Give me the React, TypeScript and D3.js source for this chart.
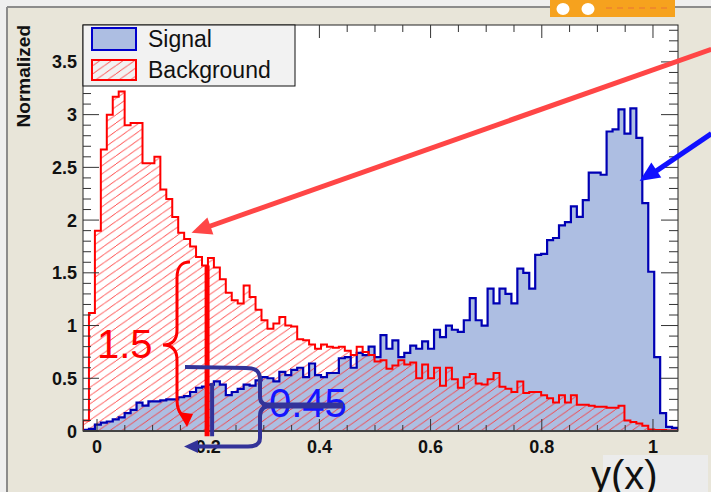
import React from 'react';
import * as d3 from 'd3';

// histogram range (x) and y range of the frame
const xMin = -0.0252;
const xMax = 1.045;
const yMax = 3.85;

// normalized bin contents, 100 bins
const signal = [
  0.01, 0.02, 0.06, 0.08, 0.09, 0.11, 0.13, 0.17, 0.2, 0.27,
  0.24, 0.28, 0.28, 0.29, 0.3, 0.3, 0.32, 0.33, 0.37, 0.41,
  0.42, 0.44, 0.47, 0.44, 0.34, 0.37, 0.4, 0.44, 0.43, 0.48,
  0.51, 0.5, 0.47, 0.56, 0.53, 0.58, 0.6, 0.51, 0.64, 0.53,
  0.51, 0.55, 0.55, 0.69, 0.7, 0.6, 0.74, 0.72, 0.8, 0.7,
  0.91, 0.78, 0.86, 0.7, 0.74, 0.81, 0.78, 0.85, 0.78, 0.96,
  0.89, 1.0, 0.96, 0.94, 1.05, 1.26, 1.05, 1.0, 1.35, 1.21,
  1.35, 1.3, 1.21, 1.54, 1.5, 1.35, 1.67, 1.68, 1.81, 1.83,
  1.95, 1.98, 2.13, 2.03, 2.19, 2.45, 2.45, 2.43, 2.84, 2.86,
  3.05, 2.82, 3.06, 2.78, 2.16, 1.51, 0.7, 0.17, 0.04, 0.03,
];

const background = [
  0.1, 1.12, 1.9, 2.67, 3.0, 3.17, 3.22, 2.9, 2.92, 2.92,
  2.54, 2.54, 2.6, 2.29, 2.2, 2.03, 1.88, 1.82, 1.75, 1.65,
  1.57, 1.64, 1.55, 1.44, 1.31, 1.24, 1.21, 1.38, 1.27, 1.15,
  1.05, 0.97, 1.02, 1.08, 1.0, 0.99, 0.87, 0.86, 0.82, 0.78,
  0.82, 0.8, 0.79, 0.8, 0.76, 0.72, 0.8, 0.75, 0.72, 0.66,
  0.67, 0.59, 0.62, 0.67, 0.63, 0.65, 0.5, 0.63, 0.5, 0.6,
  0.43, 0.6, 0.49, 0.41, 0.51, 0.54, 0.45, 0.44, 0.49, 0.55,
  0.42, 0.4, 0.37, 0.47, 0.36, 0.37, 0.37, 0.34, 0.31, 0.27,
  0.34, 0.27, 0.34, 0.25, 0.25, 0.24, 0.23, 0.23, 0.22, 0.22,
  0.24, 0.1, 0.085, 0.07, 0.05, 0.015, 0.01, 0.01, 0.005, 0.005,
];

const xTickValues = [0, 0.2, 0.4, 0.6, 0.8, 1];
const xTickLabels = ['0', '0.2', '0.4', '0.6', '0.8', '1'];
const yTickValues = [0, 0.5, 1, 1.5, 2, 2.5, 3, 3.5];
const yTickLabels = ['0', '0.5', '1', '1.5', '2', '2.5', '3', '3.5'];
const legendLabels = ['Signal', 'Background'];
const yTitle = 'Normalized';
const xTitle = 'y(x)';
const sigNote = '1.5';
const bkgNote = '0.45';

const FONT = '"Liberation Sans", Arial, Helvetica, sans-serif';
const SIG_FILL = '#adbee2';
const SIG_LINE = '#0000b4';
const BKG_LINE = '#ff0000';

export default function App() {
  const W = 711;
  const H = 492;
  const frame = { left: 83, right: 678, top: 25, bottom: 431 };

  const x = d3.scaleLinear().domain([xMin, xMax]).range([frame.left, frame.right]);
  const y = d3.scaleLinear().domain([0, yMax]).range([frame.bottom, frame.top]);

  const n = signal.length;
  const edges = d3.range(n + 1).map(i => xMin + ((xMax - xMin) * i) / n);

  const stepPoints = (vals: number[]) =>
    [[edges[0], 0] as [number, number]]
      .concat(vals.map((v, i) => [edges[i], v] as [number, number]))
      .concat([[edges[n], vals[n - 1]], [edges[n], 0]]);

  const area = d3.area<[number, number]>()
    .x(d => x(d[0]))
    .y0(y(0))
    .y1(d => y(d[1]))
    .curve(d3.curveStepAfter);

  const line = d3.line<[number, number]>()
    .x(d => x(d[0]))
    .y(d => y(d[1]))
    .curve(d3.curveStepAfter);

  const sigPts = stepPoints(signal);
  const bkgPts = stepPoints(background);

  const xMinor = d3.range(0, 1.0001, 0.05).filter(v => x(v) >= frame.left && x(v) <= frame.right);
  const yMinor = d3.range(0, yMax, 0.1);

  // annotation anchor points, in data coordinates
  const redArrowTip: [number, number] = [0.17, 1.88];
  const redArrowTail: [number, number] = [1.105, 3.62];
  const blueArrowTip: [number, number] = [0.976, 2.37];
  const blueArrowTail: [number, number] = [1.105, 2.82];

  const arrowHead = (tip: [number, number], tail: [number, number], len: number, half: number) => {
    const dx = tip[0] - tail[0];
    const dy = tip[1] - tail[1];
    const L = Math.hypot(dx, dy);
    const ux = dx / L, uy = dy / L;
    const bx = tip[0] - ux * len, by = tip[1] - uy * len;
    return `M${tip[0]},${tip[1]} L${bx - uy * half},${by + ux * half} L${bx + uy * half},${by - ux * half} Z`;
  };

  const rTip: [number, number] = [x(redArrowTip[0]), y(redArrowTip[1])];
  const rTail: [number, number] = [x(redArrowTail[0]), y(redArrowTail[1])];
  const bTip: [number, number] = [x(blueArrowTip[0]), y(blueArrowTip[1])];
  const bTail: [number, number] = [x(blueArrowTail[0]), y(blueArrowTail[1])];

  const redBarX = x(0.198);
  const blueBarX = x(0.207);

  return (
    <svg width={W} height={H} style={{ position: 'absolute', left: 0, top: 0 }} fontFamily={FONT}>
      <defs>
        <pattern id="hatch" patternUnits="userSpaceOnUse" width="11.6" height="8.2">
          <path d="M-1.16,9.02 L12.76,-0.82" stroke="#ff3030" strokeWidth="0.9" />
        </pattern>
        <clipPath id="plotClip">
          <rect x={frame.left} y={frame.top} width={frame.right - frame.left} height={frame.bottom - frame.top} />
        </clipPath>
      </defs>

      {/* canvas */}
      <rect x={0} y={0} width={W} height={H} fill="#e8e5d9" />
      <rect x={0} y={0} width={W} height={7} fill="#efefef" />
      <rect x={0} y={0} width={7} height={H} fill="#efefef" />
      <line x1={7} y1={7} x2={W} y2={7} stroke="#8c8c8c" strokeWidth={2} />
      <line x1={7} y1={7} x2={7} y2={H} stroke="#8c8c8c" strokeWidth={2} />
      <rect x={550} y={0} width={125} height={17} fill="#f6a21e" />
      <ellipse cx={563} cy={9} rx={6.5} ry={6} fill="#ffffff" />
      <ellipse cx={588} cy={9} rx={6.5} ry={6} fill="#ffffff" />
      {d3.range(6).map(i => (
        <rect key={i} x={606 + i * 11} y={7} width={6} height={2} fill="#f08a2a" />
      ))}

      {/* plot frame */}
      <rect x={frame.left} y={frame.top} width={frame.right - frame.left} height={frame.bottom - frame.top} fill="#ffffff" />

      <g clipPath="url(#plotClip)">
        <path d={area(sigPts) || ''} fill={SIG_FILL} />
        <path d={area(bkgPts) || ''} fill="url(#hatch)" />
        <path d={line(sigPts) || ''} fill="none" stroke={SIG_LINE} strokeWidth={2.2} />
        <path d={line(bkgPts) || ''} fill="none" stroke={BKG_LINE} strokeWidth={2} />
      </g>

      {/* axes */}
      <rect x={frame.left} y={frame.top} width={frame.right - frame.left} height={frame.bottom - frame.top} fill="none" stroke="#222" strokeWidth={1} />
      <line x1={frame.left} y1={frame.bottom} x2={frame.right} y2={frame.bottom} stroke="#444" strokeWidth={2} />
      {xMinor.map((v, i) => {
        const major = xTickValues.some(t => Math.abs(t - v) < 1e-6);
        return (
          <g key={'xt' + i} stroke="#333" strokeWidth={1}>
            <line x1={x(v)} x2={x(v)} y1={frame.bottom} y2={frame.bottom - (major ? 12 : 6)} />
            <line x1={x(v)} x2={x(v)} y1={frame.top} y2={frame.top + (major ? 13 : 7)} />
          </g>
        );
      })}
      {yMinor.map((v, i) => {
        const major = yTickValues.some(t => Math.abs(t - v) < 1e-6);
        return (
          <g key={'yt' + i} stroke="#333" strokeWidth={1}>
            <line x1={frame.left} x2={frame.left + (major ? 16 : 8)} y1={y(v)} y2={y(v)} />
            <line x1={frame.right} x2={frame.right - (major ? 17 : 9)} y1={y(v)} y2={y(v)} />
          </g>
        );
      })}
      {xTickValues.map((v, i) => (
        <text key={'xl' + i} x={x(v)} y={453} textAnchor="middle" fontSize={18} fontWeight="bold" fill="#111">
          {xTickLabels[i]}
        </text>
      ))}
      {yTickValues.map((v, i) => (
        <text key={'yl' + i} x={77} y={y(v) + 6.5} textAnchor="end" fontSize={18} fontWeight="bold" fill="#111">
          {yTickLabels[i]}
        </text>
      ))}
      <text transform={`translate(30,${frame.top}) rotate(-90)`} textAnchor="end" fontSize={19} fontWeight="bold" fill="#111">
        {yTitle}
      </text>

      {/* legend */}
      <rect x={83} y={25} width={212} height={61} fill="#f2f2f2" stroke="#111" strokeWidth={1} />
      <rect x={92} y={28} width={44} height={22} fill={SIG_FILL} stroke="#0000cc" strokeWidth={2} />
      <rect x={92} y={60} width={44} height={20} fill="url(#hatch)" stroke={BKG_LINE} strokeWidth={2} />
      <text x={148} y={47} fontSize={23} fill="#111">{legendLabels[0]}</text>
      <text x={148} y={78} fontSize={23} fill="#111">{legendLabels[1]}</text>

      {/* annotations */}
      <line x1={rTail[0]} y1={rTail[1]} x2={rTip[0] + 14} y2={rTip[1] - 5} stroke="#ff4646" strokeWidth={5} />
      <path d={arrowHead(rTip, rTail, 20, 9)} fill="#ff4646" />
      <line x1={bTail[0]} y1={bTail[1]} x2={bTip[0] + 12} y2={bTip[1] - 7} stroke="#1010ff" strokeWidth={5} />
      <path d={arrowHead(bTip, bTail, 20, 9)} fill="#1010ff" />

      <line x1={redBarX} x2={redBarX} y1={y(1.57)} y2={y(-0.05)} stroke="#ff0000" strokeWidth={5} />
      <path d="M190,262 C181,262 177,267 177,278 L177,330 C177,340 172,345 163,345 C172,345 177,350 177,360 L177,400 C177,410 180,414 184,416"
        fill="none" stroke="#ff0000" strokeWidth={3} />
      <path d="M178,412 L193,414 L187,427 Z" fill="#ff0000" />
      <text x={97} y={358} fontSize={40} fill="#ff0000">{sigNote}</text>

      <line x1={blueBarX} x2={blueBarX} y1={y(0.455)} y2={y(-0.05)} stroke="#333399" strokeWidth={4} />
      <text x={269} y={417} fontSize={40} fill="#1414ff">{bkgNote}</text>
      <path d="M185,367 L246,368 C257,368 260,372 260,380 L260,397 C260,403 264,405.5 272,405.5 M272,405.5 C264,405.5 260,409 260,416 L260,438 C260,444 256,446.5 248,446.5 L196,446.5"
        fill="none" stroke="#333399" strokeWidth={4} />
      <line x1={262} x2={343} y1={405.5} y2={405.5} stroke="#333399" strokeWidth={6} />
      <path d="M184,446.5 L198,440 L198,453 Z" fill="#333399" />

      {/* x title */}
      <rect x={603} y={455} width={105} height={37} fill="#ececec" />
      <text x={591} y={489} fontSize={40} fill="#111">{xTitle}</text>
    </svg>
  );
}
